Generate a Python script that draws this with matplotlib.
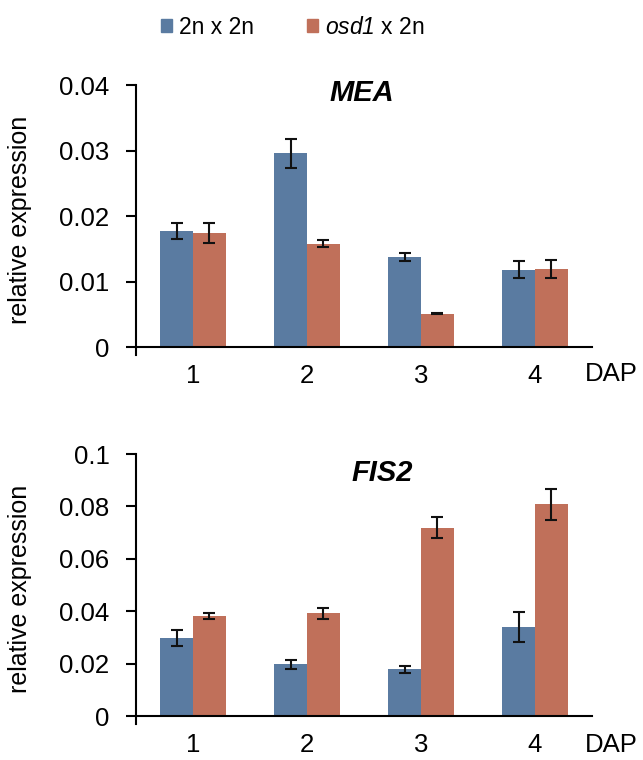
import numpy as np
import matplotlib
matplotlib.use("Agg")
import matplotlib.pyplot as plt
from matplotlib.patches import Patch

plt.rcParams['font.family'] = ['Liberation Sans', 'DejaVu Sans']
# mathtext only used for the italic "osd1" (digits use the rm slot)
plt.rcParams['mathtext.fontset'] = 'custom'
plt.rcParams['mathtext.rm'] = 'Liberation Sans:italic'
plt.rcParams['mathtext.it'] = 'Liberation Sans:italic'

# data
dap = [1, 2, 3, 4]
series = ["2n x 2n", "$\\mathit{osd1}$ x 2n"]

mea_wt = [0.0177, 0.0296, 0.0138, 0.0118]
mea_wt_err = [0.0012, 0.0022, 0.0006, 0.0013]
mea_osd = [0.01745, 0.0158, 0.0051, 0.01195]
mea_osd_err = [0.0015, 0.0005, 0.0001, 0.0014]

fis_wt = [0.0299, 0.0198, 0.0179, 0.0339]
fis_wt_err = [0.003, 0.0018, 0.0014, 0.0057]
fis_osd = [0.0382, 0.0392, 0.0719, 0.0809]
fis_osd_err = [0.0013, 0.002, 0.004, 0.0059]

blue = "#5a7ba1"
red = "#c0705a"

fig = plt.figure(figsize=(6.43, 7.6), dpi=100)
ax1 = fig.add_axes([0.2115, 0.533, 0.7092, 0.355])
ax2 = fig.add_axes([0.2115, 0.0474, 0.7092, 0.3552])

w = 0.287

def draw(ax, wt, wte, osd, osde, top, ticks, labels, title, tx, ty, dap_off):
    x = np.array(dap)
    ax.bar(x - w/2, wt, w, color=blue, edgecolor="none")
    ax.bar(x + w/2, osd, w, color=red, edgecolor="none")
    ax.errorbar(x - w/2, wt, yerr=wte, fmt="none", ecolor="#111111",
                elinewidth=1.5, capsize=4.5, capthick=1.5)
    ax.errorbar(x + w/2, osd, yerr=osde, fmt="none", ecolor="#111111",
                elinewidth=1.5, capsize=4.5, capthick=1.5)
    ax.set_xlim(0.5, 4.5)
    ax.set_ylim(-top * 0.03, top)
    ax.spines["top"].set_visible(False)
    ax.spines["right"].set_visible(False)
    ax.spines["bottom"].set_position(("data", 0))
    ax.spines["left"].set_linewidth(1.5)
    ax.spines["bottom"].set_linewidth(1.5)
    ax.set_yticks(ticks)
    ax.set_yticklabels(labels, fontsize=18.5)
    ax.set_xticks(dap)
    ax.set_xticklabels([str(d) for d in dap], fontsize=18.5)
    ax.tick_params(axis="y", direction="out", length=7, width=1.5, pad=12)
    ax.tick_params(axis="x", length=0, pad=12)
    ax.set_ylabel("relative expression", fontsize=18, labelpad=20)
    ax.text(tx, ty, title, transform=ax.transAxes, fontsize=21,
            fontweight="bold", fontstyle="italic", ha="center", va="center")
    ax.annotate("DAP", xy=(1.0, 0), xycoords=("axes fraction", "data"),
                xytext=(14, dap_off), textcoords="offset points",
                fontsize=18.5, ha="center", va="center", annotation_clip=False)

draw(ax1, mea_wt, mea_wt_err, mea_osd, mea_osd_err, 0.04,
     [0, 0.01, 0.02, 0.03, 0.04], ["0", "0.01", "0.02", "0.03", "0.04"],
     "MEA", 0.496, 0.97, -19.5)
draw(ax2, fis_wt, fis_wt_err, fis_osd, fis_osd_err, 0.1,
     [0, 0.02, 0.04, 0.06, 0.08, 0.1], ["0", "0.02", "0.04", "0.06", "0.08", "0.1"],
     "FIS2", 0.54, 0.93, -21)

handles = [Patch(color=blue), Patch(color=red)]
fig.legend(handles, series, loc="center", bbox_to_anchor=(0.455, 0.964),
           ncol=2, frameon=False, fontsize=16.5, handlelength=0.5,
           handleheight=0.5, handletextpad=0.3, columnspacing=2.3)

fig.savefig("out.png", dpi=100)
